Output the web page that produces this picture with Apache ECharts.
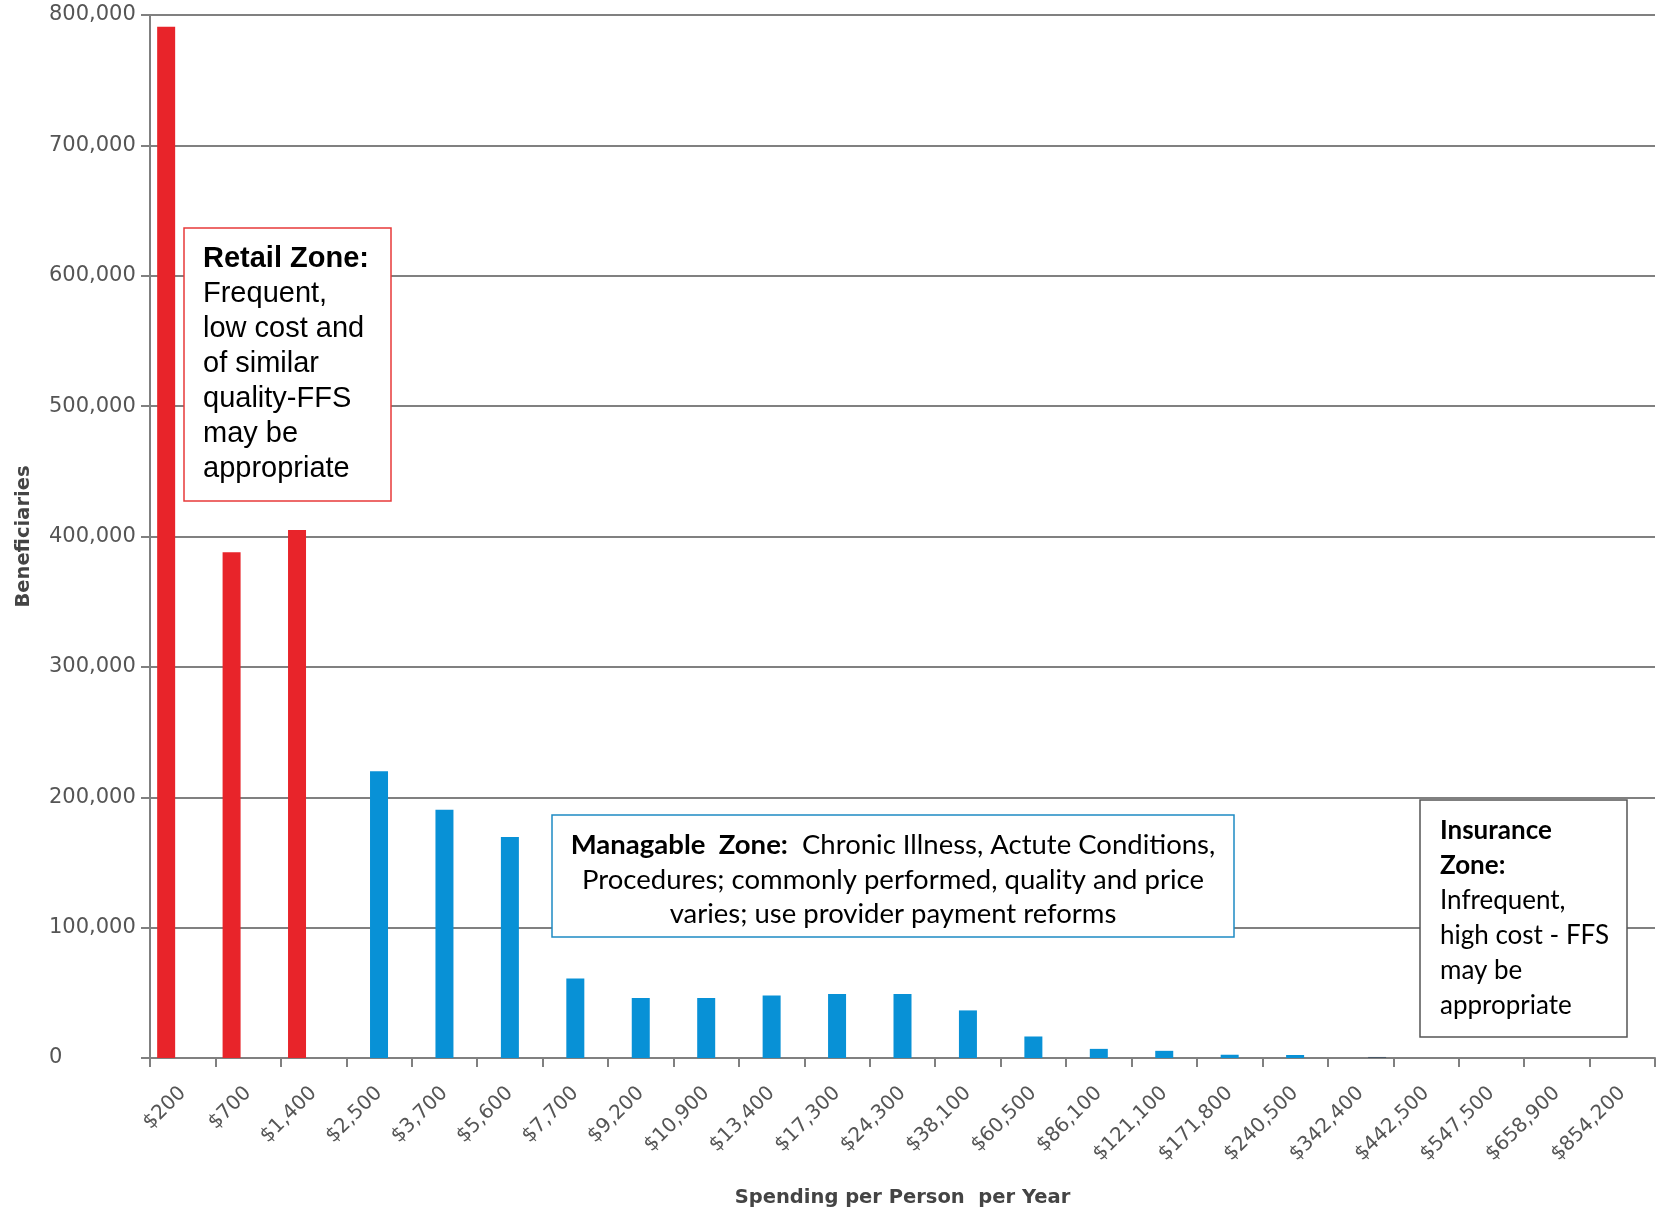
<!DOCTYPE html>
<html>
<head>
<meta charset="utf-8">
<title>Beneficiaries by Spending per Person per Year</title>
<script src="https://cdn.jsdelivr.net/npm/echarts@6/dist/echarts.min.js"></script>
<style>
  html, body { margin: 0; padding: 0; background: #fff; }
  #chart { width: 1658px; height: 1211px; }
</style>
</head>
<body>
<div id="chart"></div>
<script>
// Spending brackets (x axis)
const categories = [
  '$200', '$700', '$1,400', '$2,500', '$3,700', '$5,600', '$7,700', '$9,200',
  '$10,900', '$13,400', '$17,300', '$24,300', '$38,100', '$60,500', '$86,100',
  '$121,100', '$171,800', '$240,500', '$342,400', '$442,500', '$547,500',
  '$658,900', '$854,200'
];

// Beneficiaries per bracket, split by zone
const retailZone = [791000, 388000, 405000,
  null, null, null, null, null, null, null, null, null, null, null, null, null, null, null,
  null, null, null, null, null];
const manageableZone = [null, null, null,
  220000, 190500, 169500, 61000, 46000, 46000, 48000, 49000, 49000, 36500, 16500, 7000, 5500, 2500, 2300,
  null, null, null, null, null];
const insuranceZone = [null, null, null,
  null, null, null, null, null, null, null, null, null, null, null, null, null, null, null,
  800, 0, 0, 0, 0];

const yTicks = { min: 0, max: 800000, interval: 100000 };

const chart = echarts.init(document.getElementById('chart'), null, { renderer: 'canvas' });

const gridColor = '#808080';
const axisFont = 'DejaVu Sans';

chart.setOption({
  backgroundColor: '#ffffff',
  animation: false,
  grid: {
    left: 150, right: 3, top: 15, bottom: 153,
    containLabel: false, outerBoundsMode: 'none'
  },
  xAxis: {
    type: 'category',
    data: categories,
    boundaryGap: true,
    name: 'Spending per Person  per Year',
    nameLocation: 'middle',
    nameGap: 130,
    nameTextStyle: { fontFamily: axisFont, fontWeight: 'bold', fontSize: 19.5, color: '#444' },
    axisLine: { show: true, lineStyle: { color: gridColor, width: 2 } },
    axisTick: { show: true, length: 9, lineStyle: { color: gridColor, width: 2 } },
    axisLabel: {
      rotate: 45, margin: 32, interval: 0,
      fontFamily: axisFont, fontSize: 20, color: '#555'
    },
    splitLine: { show: false }
  },
  yAxis: {
    type: 'value',
    min: yTicks.min, max: yTicks.max, interval: yTicks.interval,
    name: 'Beneficiaries',
    nameLocation: 'middle',
    nameGap: 116,
    nameTextStyle: { fontFamily: axisFont, fontWeight: 'bold', fontSize: 19.5, color: '#444' },
    axisLine: { show: true, lineStyle: { color: gridColor, width: 2 } },
    axisTick: { show: true, length: 9, lineStyle: { color: gridColor, width: 2 } },
    axisLabel: {
      align: 'left', margin: 101,
      fontFamily: axisFont, fontSize: 21, color: '#555',
      formatter: v => v.toLocaleString('en-US')
    },
    splitLine: { show: true, lineStyle: { color: gridColor, width: 2 } }
  },
  series: [
    {
      name: 'Retail Zone', type: 'bar', data: retailZone,
      barWidth: 18, barGap: '-8%',
      itemStyle: { color: '#E8242A' }
    },
    {
      name: 'Managable Zone', type: 'bar', data: manageableZone,
      barWidth: 18, barGap: '-8%',
      itemStyle: { color: '#0891D6' }
    },
    {
      name: 'Insurance Zone', type: 'bar', data: insuranceZone,
      barWidth: 18, barGap: '-8%',
      itemStyle: { color: '#4A5866' }
    }
  ],
  graphic: [
    // Retail zone note
    {
      type: 'rect', z: 100,
      shape: { x: 184, y: 228, width: 207, height: 273 },
      style: { fill: '#ffffff', stroke: '#E83A3A', lineWidth: 1.5 }
    },
    {
      type: 'text', z: 101,
      style: {
        x: 203, y: 241,
        text: '{b|Retail Zone:}\nFrequent,\nlow cost and\nof similar\nquality-FFS\nmay be\nappropriate',
        font: '29px "Liberation Sans", Arial, sans-serif',
        fill: '#000', lineHeight: 35,
        textAlign: 'left', textVerticalAlign: 'top',
        rich: {
          b: { font: 'bold 29px "Liberation Sans", Arial, sans-serif', fill: '#000', lineHeight: 35 }
        }
      }
    },
    // Manageable zone note
    {
      type: 'rect', z: 100,
      shape: { x: 552, y: 815, width: 682, height: 122 },
      style: { fill: '#ffffff', stroke: '#1E8BC3', lineWidth: 1.5 }
    },
    {
      type: 'text', z: 101,
      style: {
        x: 893, y: 828,
        text: '{b|Managable  Zone:}  Chronic Illness, Actute Conditions,\nProcedures; commonly performed, quality and price\nvaries; use provider payment reforms',
        font: '27.5px Lato, sans-serif',
        fill: '#000', lineHeight: 34.5,
        textAlign: 'center', textVerticalAlign: 'top',
        rich: {
          b: { font: 'bold 27.5px Lato, sans-serif', fill: '#000', lineHeight: 34.5 }
        }
      }
    },
    // Insurance zone note
    {
      type: 'rect', z: 100,
      shape: { x: 1420, y: 800, width: 207, height: 237 },
      style: { fill: '#ffffff', stroke: '#555555', lineWidth: 1.5 }
    },
    {
      type: 'text', z: 101,
      style: {
        x: 1440, y: 813,
        text: '{b|Insurance}\n{b|Zone:}\nInfrequent,\nhigh cost - FFS\nmay be\nappropriate',
        font: '26px Lato, sans-serif',
        fill: '#000', lineHeight: 35,
        textAlign: 'left', textVerticalAlign: 'top',
        rich: {
          b: { font: 'bold 26px Lato, sans-serif', fill: '#000', lineHeight: 35 }
        }
      }
    }
  ]
});
</script>
</body>
</html>
